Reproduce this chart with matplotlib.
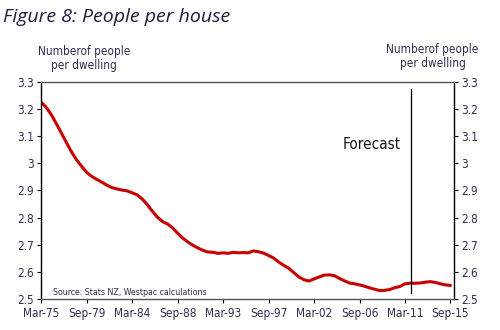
import matplotlib
matplotlib.use("Agg")
import matplotlib.pyplot as plt
from matplotlib import font_manager
import pandas as pd

# Half-yearly observations, Mar-75 to Sep-15
dates = pd.date_range("1975-03-31", "2015-09-30", freq="6ME")
people_per_dwelling = [
    3.224, 3.205, 3.178, 3.145, 3.110, 3.075, 3.041, 3.012, 2.988, 2.966,
    2.951, 2.940, 2.930, 2.919, 2.910, 2.905, 2.901, 2.898, 2.891, 2.883,
    2.868, 2.847, 2.823, 2.801, 2.785, 2.776, 2.762, 2.742, 2.724, 2.710,
    2.698, 2.688, 2.679, 2.673, 2.672, 2.668, 2.670, 2.668, 2.672, 2.670,
    2.671, 2.670, 2.677, 2.674, 2.669, 2.660, 2.651, 2.636, 2.624, 2.613,
    2.597, 2.581, 2.571, 2.566, 2.574, 2.581, 2.588, 2.589, 2.586, 2.576,
    2.567, 2.559, 2.556, 2.552, 2.547, 2.541, 2.536, 2.531, 2.532, 2.535,
    2.542, 2.546, 2.556, 2.558, 2.558, 2.559, 2.562, 2.564, 2.561, 2.556,
    2.552, 2.550,
]
forecast_start = "Sep-11"
y_ticks = [2.5, 2.6, 2.7, 2.8, 2.9, 3.0, 3.1, 3.2, 3.3]
y_tick_labels = ["2.5", "2.6", "2.7", "2.8", "2.9", "3", "3.1", "3.2", "3.3"]

labels = [d.strftime("%b-%y") for d in dates]
x = list(range(len(dates)))

# Pick a narrow sans face for the axis text
fonts = font_manager.fontManager.ttflist
names = {f.name for f in fonts}
if "Liberation Sans Narrow" in names:
    narrow = dict(family=["Liberation Sans Narrow", "DejaVu Sans"])
elif any(f.name == "DejaVu Sans" and f.stretch == "condensed" for f in fonts):
    narrow = dict(family=["DejaVu Sans"], stretch="condensed")
else:
    narrow = dict(family=["Liberation Sans", "DejaVu Sans"])
label_color = "#2e2e4e"
tick_size = 8.5

fig = plt.figure(figsize=(5.0, 3.3), dpi=100)
ax = fig.add_axes([0.0826, 0.0939, 0.8254, 0.6585])

ax.plot(x, people_per_dwelling, color="#c80000", lw=2.2, solid_capstyle="round")

fx = labels.index(forecast_start) + 0.1
ax.plot([fx, fx], [2.523, 3.273], color="black", lw=0.9)
ax.text(fx - 2.0, 3.07, "Forecast", ha="right", va="center",
        fontsize=11, color="#111122", **narrow)

ax.set_xlim(0, 81.7)
ax.set_ylim(2.5, 3.3)
tick_idx = list(range(0, len(dates), 9))
ax.set_xticks(tick_idx)
ax.set_xticklabels([labels[i] for i in tick_idx], fontsize=tick_size,
                   color=label_color, **narrow)
ax.set_yticks(y_ticks)
ax.set_yticklabels(y_tick_labels, fontsize=tick_size, color=label_color, **narrow)
ax.tick_params(axis="both", direction="out", length=3, width=0.8, color="black", pad=2)
ax.tick_params(axis="y", which="both", left=True, right=True,
               labelleft=True, labelright=True)
ax.tick_params(axis="x", pad=3)
for tick in ax.yaxis.get_major_ticks():
    tick.label2.set(fontsize=tick_size, color=label_color, **narrow)

for side in ("left", "right"):
    ax.spines[side].set_color("black")
    ax.spines[side].set_linewidth(1.0)
for side in ("top", "bottom"):
    ax.spines[side].set_color("#555555")
    ax.spines[side].set_linewidth(1.0)

ax.text(2.3, 2.523, "Source: Stats NZ, Westpac calculations", fontsize=6.3,
        color="#2e2e4e", va="center", ha="left", **narrow)

fig.text(0.006, 0.948, "Figure 8: People per house", fontsize=14, style="italic",
         family=["Open Sans", "DejaVu Sans"], color="#1c1c3c", va="center", ha="left")

fig.text(0.168, 0.822, "Numberof people\nper dwelling", fontsize=8.5,
         color="#2e2e4e", ha="center", va="center", linespacing=1.15, **narrow)
fig.text(0.865, 0.828, "Numberof people\nper dwelling", fontsize=8.5,
         color="#2e2e4e", ha="center", va="center", linespacing=1.1, **narrow)

fig.savefig("out.png", dpi=100)
